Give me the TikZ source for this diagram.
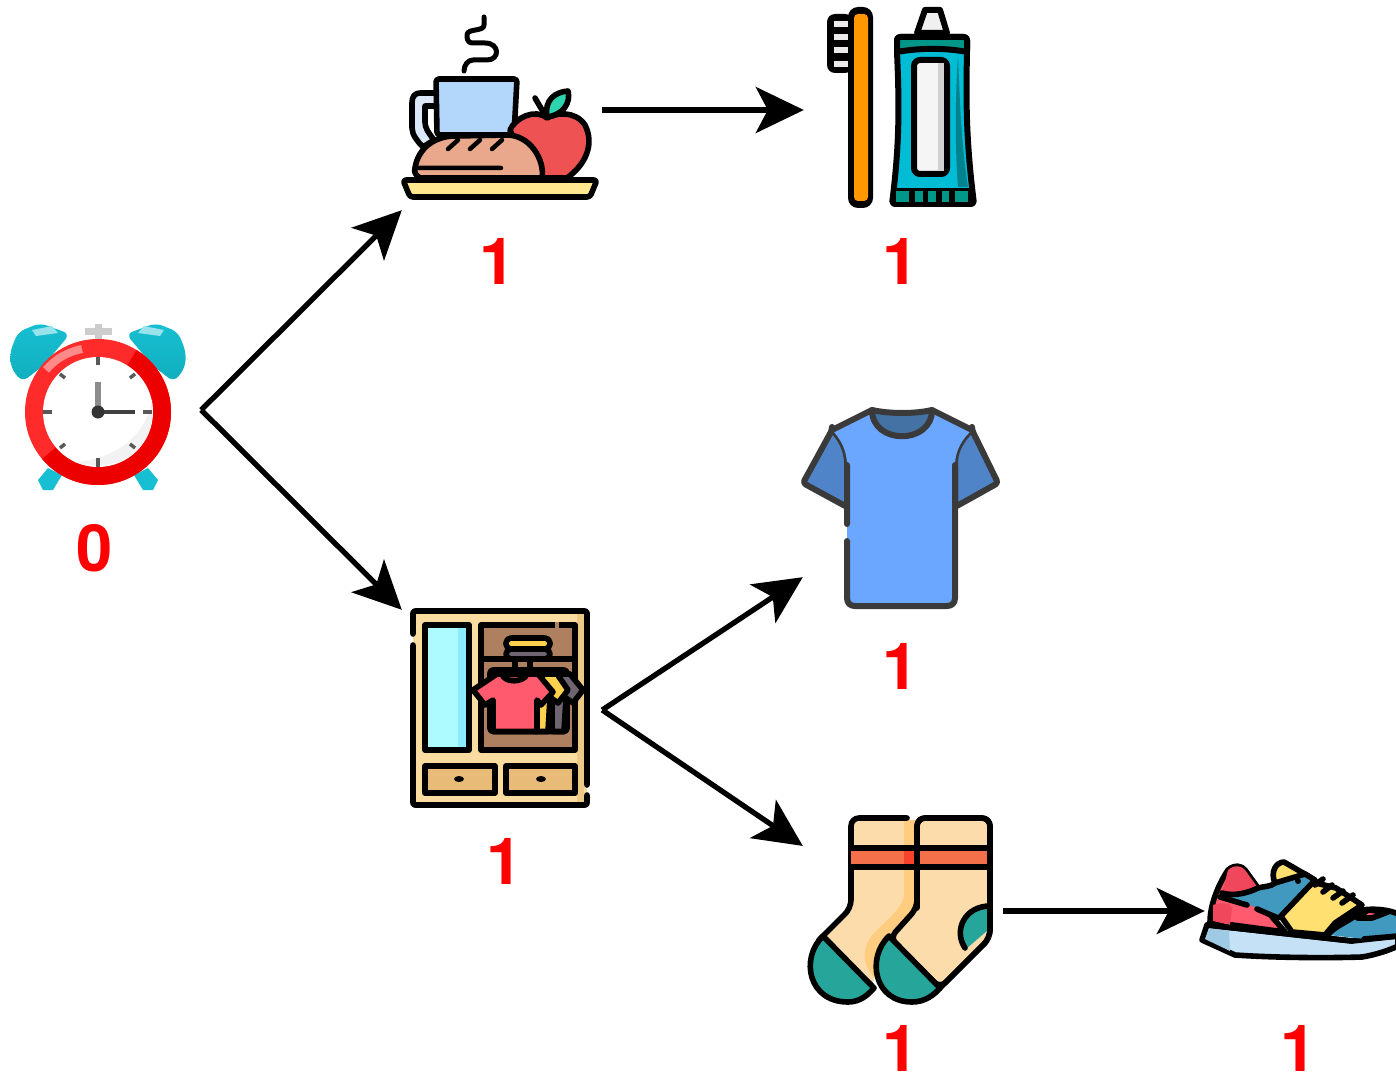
\documentclass[tikz,border=0pt]{standalone}
\usepackage{fontspec}
\setsansfont{TeX Gyre Heros}
\usetikzlibrary{arrows.meta}
\definecolor{cred}{HTML}{FF0000}
\definecolor{cink}{HTML}{000000}
\definecolor{cbell}{HTML}{17BFD2}
\definecolor{cbelld}{HTML}{10AEBD}
\definecolor{cring}{HTML}{FF2A2A}
\definecolor{cringd}{HTML}{EC0000}
\definecolor{ccup}{HTML}{B3D7FB}
\definecolor{chandle}{HTML}{DCE8F8}
\definecolor{capple}{HTML}{EE5253}
\definecolor{cleaf}{HTML}{2DD4B0}
\definecolor{cbread}{HTML}{E9A88C}
\definecolor{cplate}{HTML}{FFE88D}
\definecolor{corange}{HTML}{FF9800}
\definecolor{ctube}{HTML}{00BCD4}
\definecolor{ctubed}{HTML}{00838F}
\definecolor{cteal}{HTML}{009688}
\definecolor{cwood}{HTML}{FADCA0}
\definecolor{cwoodd}{HTML}{EDC988}
\definecolor{cbrown}{HTML}{AF8060}
\definecolor{cdrawer}{HTML}{E8BB78}
\definecolor{cglass}{HTML}{AEFBFF}
\definecolor{cglassd}{HTML}{8CECFF}
\definecolor{crose}{HTML}{FF5A6E}
\definecolor{croset}{HTML}{F0475C}
\definecolor{cyellow}{HTML}{FFD24D}
\definecolor{cslate}{HTML}{6E6570}
\definecolor{cshirt}{HTML}{6BA6FF}
\definecolor{csleeve}{HTML}{5084C8}
\definecolor{ccollar}{HTML}{4472A5}
\definecolor{cgrey}{HTML}{3A3A3A}
\definecolor{csock}{HTML}{FDDCAB}
\definecolor{cshade}{HTML}{FFCC80}
\definecolor{ctoe}{HTML}{26A69A}
\definecolor{cstripe}{HTML}{F4704A}
\definecolor{csole}{HTML}{C5E1F5}
\definecolor{csoled}{HTML}{9ECAE4}
\definecolor{cblue}{HTML}{4299BF}
\definecolor{csun}{HTML}{FFE070}
\tikzset{
  icon/.style={minimum width=200pt, minimum height=200pt, inner sep=0pt},
  num/.style={font=\sffamily\bfseries\fontsize{65}{65}\selectfont, text=cred, inner sep=0pt},
  arrow/.style={-{Stealth[length=48pt, width=46pt, inset=12pt]}, draw=cink, line width=5.3pt},
  ink/.style={draw=cink, line width=5.6pt, line join=round, line cap=round},
  grey ink/.style={draw=cgrey, line width=6pt, line join=round, line cap=round},
}
\begin{document}
\begin{tikzpicture}[x=1pt, y=-1pt]
  \useasboundingbox (0,0) rectangle (1396,1075);
  % anchors of the pictures
  \node[icon] (clock) at (101,410) {};
  \node[icon] (meal) at (502,110) {};
  \node[icon] (brush) at (904,110) {};
  \node[icon] (closet) at (502,710) {};
  \node[icon] (shirt) at (903,507) {};
  \node[icon] (socks) at (903,911) {};
  \node[icon] (shoe) at (1305,911) {};
  % alarm clock
  \shade[top color=cbell, bottom color=cbelld, rounded corners=7pt] (10,352) -- (18,332) -- (40,323) -- (70,334) -- (43,366) -- (22,382) -- (11,368) -- cycle;
  \shade[top color=cbell, bottom color=cbelld, rounded corners=7pt] (186,352) -- (178,332) -- (156,323) -- (126,334) -- (153,366) -- (174,382) -- (185,368) -- cycle;
  \fill[cbell!45!white] (32,330) -- (52,326) -- (58,333) -- (36,336) -- cycle;
  \fill[cbell!45!white] (164,330) -- (144,326) -- (138,333) -- (160,336) -- cycle;
  \fill[cbell] (38,480) -- (48,468) -- (62,475) -- (53,490) -- (43,490) -- cycle;
  \fill[cbell] (158,480) -- (148,468) -- (134,475) -- (143,490) -- (153,490) -- cycle;
  \fill[black!20] (85,328) rectangle (112,335);
  \fill[black!20] (95,324) rectangle (102,340);
  \fill[cring] (98,412) circle[radius=73];
  \fill[cringd] (98,412) -- ++(-58:73) arc[start angle=-58, end angle=140, radius=73] -- cycle;
  \draw[line width=8pt, color=cring!55!white] (46,370) .. controls (56,358) and (68,352) .. (82,349);
  \fill[white] (98,412) circle[radius=55];
  \fill[black!5] (152,400) .. controls (145,440) and (110,460) .. (75,462) .. controls (110,475) and (158,455) .. (152,400) -- cycle;
  \draw[line width=6pt, color=black!45] (98,382) -- (98,410);
  \draw[line width=4pt, color=black!75] (103,412) -- (135,412);
  \draw[line width=4pt, color=black!65] (98,357) -- (98,365) (98,458) -- (98,467) (43,412) -- (52,412) (143,412) -- (152,412);
  \draw[line width=3.5pt, color=black!65] (60,374) -- (65,378) (135,374) -- (130,378) (60,448) -- (65,444) (135,448) -- (130,444);
  \fill[black!80] (98,412) circle[radius=6.5];
  % breakfast
  \draw[ink, line width=5pt] (484,17) -- (484,25) .. controls (484,32) and (467,28) .. (467,35) .. controls (467,43) and (470,43) .. (475,43) -- (485,43) .. controls (500,43) and (500,60) .. (487,60) -- (473,60) .. controls (468,60) and (464,65) .. (464,71);
  \draw[ink, fill=chandle] (436,93) -- (421,93) .. controls (414,93) and (412,97) .. (412,103) -- (412,128) .. controls (412,135) and (418,142) .. (423,147) -- (434,140) .. controls (428,132) and (425,128) .. (425,122) -- (425,106) -- (436,106);
  \draw[ink, fill=ccup, rounded corners=3pt] (437,135) -- (436,79) -- (517,79) -- (514,135) -- cycle;
  \draw[ink, fill=capple] (510,130) .. controls (515,118) and (535,108) .. (547,118) .. controls (555,113) and (575,110) .. (585,125) .. controls (595,145) and (585,165) .. (567,178) -- (530,178) -- cycle;
  \draw[ink] (535,98) -- (545,115);
  \draw[ink, fill=cleaf] (547,117) .. controls (544,100) and (555,92) .. (568,91) .. controls (571,103) and (563,115) .. (547,117) -- cycle;
  \draw[ink, fill=cbread] (415,168) .. controls (418,148) and (435,136) .. (455,136) -- (507,135) .. controls (530,135) and (545,160) .. (542,178) -- (420,178) .. controls (415,175) and (414,172) .. (415,168) -- cycle;
  \draw[ink, line width=4.5pt] (448,149) -- (458,140) (470,149) -- (480,140) (492,149) -- (502,140) (417,168) -- (501,168);
  \draw[ink, fill=cplate, rounded corners=3pt] (403,180) -- (597,180) -- (590,197) -- (410,197) -- cycle;
  % toothbrush and paste
  \fill[cink, rounded corners=8pt] (827,14) rectangle (853,73);
  \foreach \yy in {21,34,47,61} {
    \fill[black!8] (834,\yy) rectangle (849,\yy+6.5);
  }
  \fill[cink, rounded corners=10pt] (848,7) rectangle (873,208);
  \fill[corange, rounded corners=4pt] (854,14) rectangle (868,201);
  \draw[ink, line width=6pt, fill=black!6] (925,10) -- (940,10) -- (947,33) -- (917,33) -- cycle;
  \draw[ink, line width=6pt, fill=ctube, rounded corners=3pt] (897,37) -- (967,37) -- (967,52) .. controls (966,100) and (966,140) .. (974,204) -- (892,204) .. controls (900,140) and (899,100) .. (897,52) -- cycle;
  \fill[ctubed] (958,55) .. controls (960,110) and (962,150) .. (968,187) -- (958,187) .. controls (955,150) and (955,100) .. (958,55) -- cycle;
  \draw[ink, line width=6pt, fill=cteal, rounded corners=3pt] (897,37) -- (967,37) -- (967,52) .. controls (945,48) and (920,48) .. (897,52) -- cycle;
  \fill[cink] (894,188) rectangle (972,204);
  \foreach \xa/\xb in {896/909,915/923,928/936,942/949,955/968} {
    \fill[cteal] (\xa,191) rectangle (\xb,202);
  }
  \draw[ink, line width=6pt, fill=black!4, rounded corners=6pt] (914,60) rectangle (947,174);
  \fill[black!18] (938,63) rectangle (944,171);
  % wardrobe
  \fill[cwood] (413,611) rectangle (587,805);
  \fill[cwoodd] (577,614) rectangle (584,802);
  \draw[ink, rounded corners=2pt] (413,634) -- (413,611) -- (587,611) -- (587,785) (587,795) -- (587,805) -- (413,805) -- (413,645);
  \draw[ink, fill=cglass] (425,625) rectangle (469,750);
  \fill[cglassd] (458,628) rectangle (466,747);
  \draw[ink, fill=cbrown] (481,625) rectangle (575,750);
  \draw[cbrown, line width=7pt] (555,625) -- (559,625);
  \draw[ink] (481,659) -- (575,659);
  \draw[ink, rounded corners=5pt, fill=cyellow] (506,638) rectangle (550,649);
  \draw[ink, rounded corners=5pt, fill=cslate] (506,649) rectangle (550,659);
  \draw[ink] (515,659) -- (515,670) (530,659) -- (530,670);
  \draw[ink, fill=cbrown, rounded corners=3pt] (490,670) rectangle (567,731.5);
  \draw[ink, fill=cslate] (560,674) -- (570,674) -- (583,690) -- (573,703) -- (566,698) -- (564,731.5) -- (552,731.5) -- (552,700) -- cycle;
  \draw[ink, fill=cyellow] (543,674) -- (557,674) -- (568,690) -- (558,703) -- (550,697) -- (548,731.5) -- (535,731.5) -- (535,700) -- cycle;
  \draw[ink, fill=crose] (497,674) -- (538,674) -- (553,692) -- (541,705) -- (537,700) -- (537,731.5) -- (493,731.5) -- (493,700) -- (485,705) -- (473,690) -- cycle;
  \draw[ink, fill=crose!80!black] (502,674) .. controls (504,683) and (524,683) .. (527,674) -- cycle;
  \draw[ink, fill=cdrawer] (425,766) rectangle (495,793);
  \draw[ink, fill=cdrawer] (506,766) rectangle (575,793);
  \fill[cink] (459,779) ellipse[x radius=5, y radius=3];
  \fill[cink] (541,779) ellipse[x radius=5, y radius=3];
  % t-shirt
  \fill[cshirt, rounded corners=8pt] (847,520) -- (847,605) -- (955,605) -- (955,520) -- cycle;
  \draw[grey ink, fill=csleeve, rounded corners=3pt] (832,430) -- (803,483) -- (847,507) -- (847,465) .. controls (847,450) and (840,438) .. (832,430) -- cycle;
  \draw[grey ink, fill=csleeve, rounded corners=3pt] (972,430) -- (998,483) -- (955,507) -- (955,465) .. controls (955,450) and (963,438) .. (972,430) -- cycle;
  \fill[cshirt] (832,430) -- (872,410) -- (932,410) -- (972,430) .. controls (963,438) and (955,450) .. (955,465) -- (955,530) -- (847,530) -- (847,465) .. controls (847,450) and (840,438) .. (832,430) -- cycle;
  \draw[grey ink, fill=ccollar] (872,410) .. controls (890,414) and (915,414) .. (932,410) .. controls (932,445) and (872,445) .. (872,410) -- cycle;
  \draw[grey ink] (847,465) -- (847,524) (847,541) -- (847,598) .. controls (847,603) and (850,606) .. (855,606) -- (947,606) .. controls (952,606) and (955,603) .. (955,598) -- (955,465);
  \draw[grey ink] (832,430) -- (872,410) (932,410) -- (972,430);
  % socks
  \fill[csock] (851,820) -- (917,820) -- (917,908) -- (882,942) -- (872,988) -- (823,938) -- (851,908) -- cycle;
  \fill[cshade] (904,820) -- (915,820) -- (915,908) -- (882,942) -- (876,978) .. controls (860,965) and (862,945) .. (875,932) .. controls (890,918) and (904,905) .. (904,895) -- cycle;
  \draw[ink, fill=ctoe] (823,936) .. controls (800,958) and (808,1002) .. (848,1002) .. controls (860,1002) and (868,995) .. (874,988) -- cycle;
  \draw[ink, rounded corners=8pt] (907,818) -- (851,818) -- (851,908) -- (819,940);
  \fill[cstripe] (851,850) rectangle (917,865);
  \fill[cstripe!60!red] (904,850) rectangle (915,865);
  \draw[ink] (851,848) -- (917,848) (851,867) -- (917,867);
  \draw[ink, fill=csock, rounded corners=8pt] (917,908) -- (917,818) -- (990,818) -- (990,938) -- (940,988) -- (890,938) -- cycle;
  \draw[ink, fill=ctoe] (889,936) .. controls (866,958) and (874,1002) .. (912,1002) .. controls (925,1002) and (934,995) .. (940,988) -- cycle;
  \fill[ctoe] (990,908) .. controls (965,906) and (955,930) .. (966,949) -- (988,930) -- cycle;
  \draw[ink] (990,906) .. controls (965,906) and (953,930) .. (965,948);
  \fill[cstripe] (919,850) rectangle (988,865);
  \draw[ink] (917,848) -- (990,848) (917,867) -- (990,867);
  \draw[ink, rounded corners=8pt] (917,908) -- (917,818) -- (990,818) -- (990,938) -- (940,988);
  % running shoe
  \draw[ink, fill=csole] (1207,925) -- (1202,940) -- (1235,955) .. controls (1280,958) and (1330,958) .. (1362,957) .. controls (1375,955) and (1390,950) .. (1398,946) -- (1398,936) -- (1352,941) -- cycle;
  \fill[csoled] (1209,928) -- (1205,939) -- (1230,951) -- (1229,931) -- cycle;
  \draw[ink, fill=crose] (1210,922) .. controls (1210,905) and (1218,885) .. (1228,870) .. controls (1235,864) and (1242,866) .. (1245,870) -- (1258,888) -- (1262,905) -- (1285,932) -- cycle;
  \fill[croset] (1213,905) .. controls (1222,902) and (1232,903) .. (1232,908) -- (1230,925) -- (1213,921) -- cycle;
  \draw[ink, fill=csun] (1275,883) .. controls (1270,872) and (1276,862) .. (1284,862) -- (1310,877) -- (1282,885) -- cycle;
  \draw[ink, fill=csun] (1312,882) -- (1336,888) -- (1362,905) -- (1335,923) -- (1325,935) -- (1292,932) -- (1280,915) -- cycle;
  \fill[croset] (1222,893) .. controls (1235,897) and (1250,892) .. (1258,888) -- (1245,870) .. controls (1242,866) and (1235,864) .. (1228,870) -- cycle;
  \fill[cblue] (1222,893) .. controls (1235,897) and (1250,892) .. (1258,888) .. controls (1265,886) and (1270,887) .. (1275,883) -- (1305,874) -- (1315,880) -- (1280,917) -- (1257,908) -- (1245,903) -- cycle;
  \draw[ink] (1222,893) .. controls (1235,897) and (1250,892) .. (1258,888) .. controls (1265,886) and (1270,887) .. (1275,883) -- (1305,874) -- (1315,880) -- (1280,917);
  \draw[ink] (1220,897) -- (1247,905) (1257,909) -- (1278,918);
  \fill[cink] (1298,881) circle[radius=3];
  \fill[cblue] (1328,935) .. controls (1335,925) and (1350,922) .. (1362,910) .. controls (1375,908) and (1390,910) .. (1398,914) -- (1398,936) -- (1365,939) -- cycle;
  \draw[ink] (1328,935) .. controls (1335,925) and (1350,922) .. (1362,910) .. controls (1375,908) and (1390,910) .. (1398,914);
  \draw[ink, fill=crose] (1357,918) -- (1368,910) -- (1388,912) -- (1372,918) -- cycle;
  \draw[ink] (1315,885) -- (1323,879) (1323,892) -- (1332,885) (1333,898) -- (1343,891) (1342,903) -- (1353,895);
  \draw[ink] (1352,941) -- (1207,925) (1364,939) -- (1398,936);
  % connectors
  \draw[arrow] (clock.east) -- (meal.south west);
  \draw[arrow] (clock.east) -- (closet.north west);
  \draw[arrow] (meal.east) -- (brush.west);
  \draw[arrow] (closet.east) -- (shirt.215);
  \draw[arrow] (closet.east) -- (socks.147);
  \draw[arrow] (socks.east) -- (shoe.west);
  % values
  \node[num] (n0) at (94.5,548) {0};
  \node[num] (n1) at (498,261) {1};
  \node[num] (n2) at (901,261) {1};
  \node[num] (n3) at (901,666) {1};
  \node[num] (n4) at (505,861) {1};
  \node[num] (n5) at (901,1048) {1};
  \node[num] (n6) at (1298.5,1048) {1};
\end{tikzpicture}
\end{document}
